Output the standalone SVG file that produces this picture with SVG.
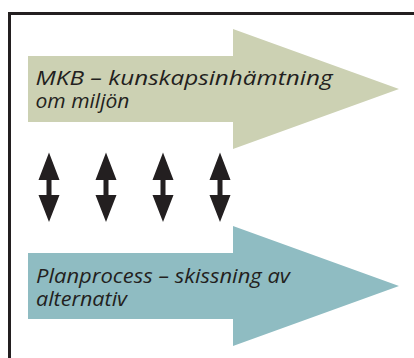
<svg xmlns="http://www.w3.org/2000/svg" width="414" height="358" viewBox="0 0 414 358">
<style>
.lbl{font-family:"Open Sans","Noto Sans","Liberation Sans",sans-serif;font-style:italic;font-size:20.5px;fill:#231f20}
.dbl{fill:#231f20}
</style>
<defs>
<path id="dbl" class="dbl" d="M0,-34.5 L10.5,-7 L2.5,-7 L2.5,8 L10.5,8 L0,35 L-10.5,8 L-2.5,8 L-2.5,-7 L-10.5,-7 Z"/>
</defs>
<rect width="414" height="358" fill="#ffffff"/>
<g id="frame">
<path d="M9.5,358 V13.5 H414" fill="none" stroke="#231f20" stroke-width="3"/>
</g>
<g id="mkb">
<polygon points="28,56 233,56 233,29 399,89 233,149 233,122 28,122" fill="#ccd1b3"/>
<text class="lbl"><tspan x="35.5" y="85" textLength="297" lengthAdjust="spacingAndGlyphs">MKB – kunskapsinhämtning</tspan><tspan x="35.5" y="107.5" textLength="94" lengthAdjust="spacingAndGlyphs">om miljön</tspan></text>
</g>
<g id="plan">
<polygon points="28,253 233,253 233,226 399,286 233,346 233,319 28,319" fill="#8fbcc2"/>
<text class="lbl"><tspan x="36" y="282.5" textLength="254" lengthAdjust="spacingAndGlyphs">Planprocess – skissning av</tspan><tspan x="36" y="305.5" textLength="91" lengthAdjust="spacingAndGlyphs">alternativ</tspan></text>
</g>
<g id="connectors">
<use href="#dbl" x="49" y="187"/>
<use href="#dbl" x="106" y="187"/>
<use href="#dbl" x="163" y="187"/>
<use href="#dbl" x="220" y="187"/>
</g>
</svg>
